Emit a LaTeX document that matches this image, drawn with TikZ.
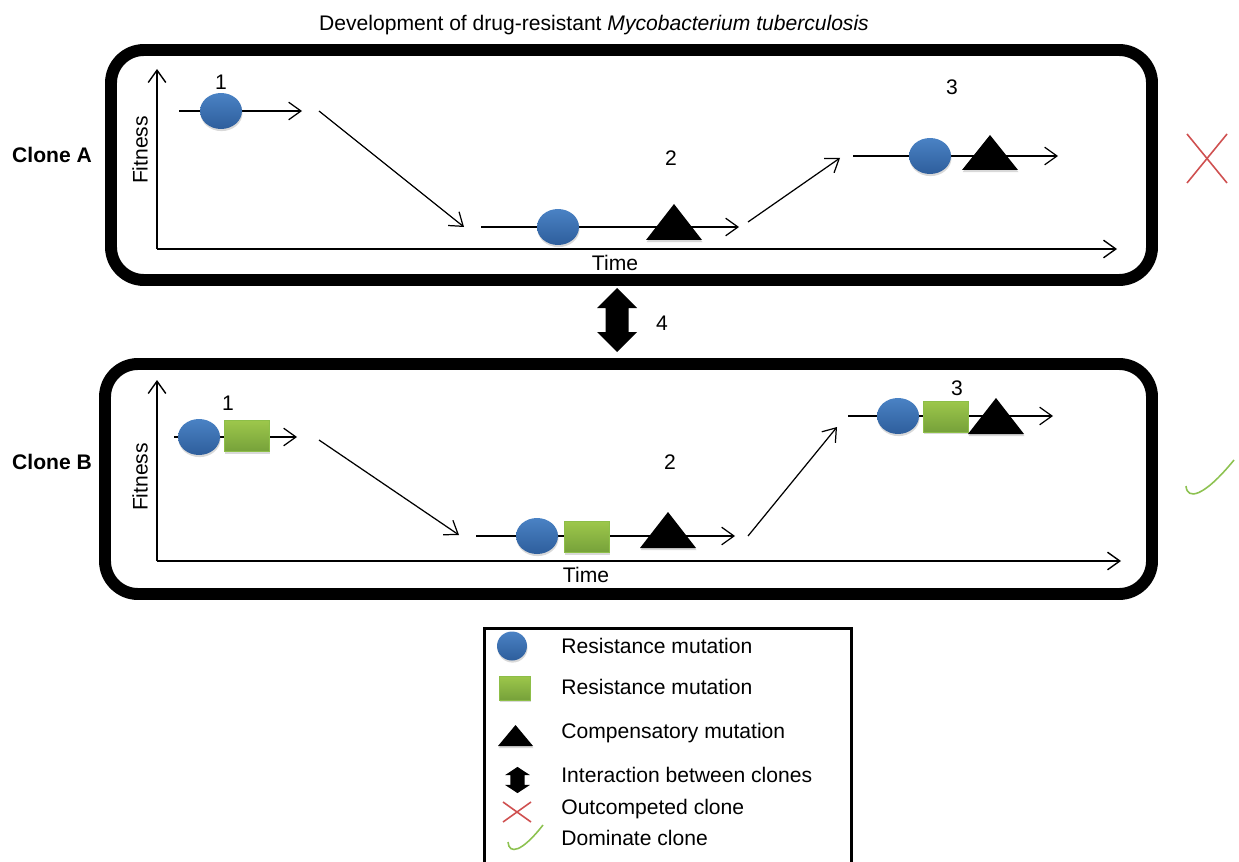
\documentclass[tikz,border=0pt]{standalone}
\usepackage{fontspec}
\setmainfont{Liberation Sans}
\usepackage{tikz}
\usetikzlibrary{arrows.meta}
\usetikzlibrary{shapes.geometric,shadows}
\definecolor{mutblueT}{HTML}{4A82C4}
\definecolor{mutblueB}{HTML}{2E5E9C}
\definecolor{mutgreenT}{HTML}{9DC74B}
\definecolor{mutgreenB}{HTML}{76A13A}
\definecolor{mutgreenD}{HTML}{8DBE48}
\definecolor{outred}{HTML}{CF5050}
\definecolor{domgreen}{HTML}{8DC251}
\tikzset{
 txt/.style={font=\fontsize{12}{14}\selectfont, inner sep=0pt},
 cname/.style={font=\fontsize{12}{14}\selectfont\bfseries, inner sep=0pt},
 soft/.style={drop shadow={opacity=0.3, shadow xshift=0.3pt, shadow yshift=-1.2pt}},
 resA/.style={ellipse, minimum width=0.84cm, minimum height=0.72cm, inner sep=0pt, top color=mutblueT, bottom color=mutblueB, soft},
 resB/.style={rectangle, minimum width=0.9cm, minimum height=0.62cm, inner sep=0pt, draw=mutgreenD, line width=0.5pt, top color=mutgreenT, bottom color=mutgreenB, soft},
 cbox/.style={line width=6.8pt, rounded corners=0.66cm},
 axis/.style={black, line width=0.8pt, ->},
 path/.style={black, line width=0.7pt, ->}
}
\newcommand{\comptri}[3]{\fill[black, soft] (#1) ++(-#2,#3) -- ++(2*#2,0) -- ++(-#2,-2*#3) -- cycle;}
\newcommand{\dblarr}[3]{\fill[black, shift={(#1)}, xscale=#2, yscale=#3] (0,-32) -- (20,-12) -- (11.5,-12) -- (11.5,12) -- (20,12) -- (0,32) -- (-20,12) -- (-11.5,12) -- (-11.5,-12) -- (-20,-12) -- cycle;}
\newcommand{\outx}[3]{\draw[outred, line width=0.9pt] (#1) ++(-#2,-#3) -- ++(2*#2,2*#3) (#1) ++(#2,-#3) -- ++(-2*#2,2*#3);}

\begin{document}
\begin{tikzpicture}[x=0.02cm, y=-0.02cm, >={Straight Barb[length=7pt,width=10pt]}]
\useasboundingbox (0,0) rectangle (1239,861);
\node[txt, anchor=base] (title) at (594,31) {Development of drug-resistant \textit{Mycobacterium tuberculosis}};

\draw[cbox] (111,50) rectangle (1152,280);
\draw[cbox] (105,364) rectangle (1152,594);

\node[cname] (cloneA) at (52,155) {Clone A};
\node[cname] (cloneB) at (52,462) {Clone B};

\coordinate (oA) at (157,249);
\coordinate (yA) at (157,69);
\coordinate (xA) at (1117,249);
\draw[axis] (oA) -- (yA);
\draw[axis] (oA) -- (xA);
\node[txt, rotate=90] (fitA) at (140,150) {Fitness};
\node[txt] (timeA) at (615,263) {Time};

\coordinate (sA1) at (179,111);
\coordinate (eA1) at (302,111);
\coordinate (dA1) at (319,111);
\coordinate (dA2) at (464,227);
\coordinate (sA2) at (481,227);
\coordinate (eA2) at (739,227);
\coordinate (uA1) at (748,222);
\coordinate (uA2) at (840,158);
\coordinate (sA3) at (853,156);
\coordinate (eA3) at (1058,156);
\draw[path] (sA1) -- (eA1);
\draw[path] (dA1) -- (dA2);
\draw[path] (sA2) -- (eA2);
\draw[path] (uA1) -- (uA2);
\draw[path] (sA3) -- (eA3);
\node[resA] (cA1) at (221,111) {};
\node[resA] (cA2) at (558,227) {};
\node[resA] (cA3) at (930,156) {};
\coordinate (tA2) at (674,222);
\coordinate (tA3) at (990,152.5);
\comptri{tA2}{28}{18}
\comptri{tA3}{28}{17.5}
\node[txt] (nA1) at (221,82) {1};
\node[txt] (nA2) at (671,158) {2};
\node[txt] (nA3) at (952,87) {3};
\coordinate (xmA) at (1207,158.5);
\outx{xmA}{20}{24.5}

\coordinate (dbl) at (617,320);
\dblarr{dbl}{1}{1}
\node[txt] (n4) at (662,323) {4};

\coordinate (oB) at (157,561);
\coordinate (yB) at (157,380);
\coordinate (xB) at (1121,561);
\draw[axis] (oB) -- (yB);
\draw[axis] (oB) -- (xB);
\node[txt, rotate=90] (fitB) at (140,477) {Fitness};
\node[txt] (timeB) at (586,575) {Time};

\coordinate (sB1) at (174,437);
\coordinate (eB1) at (297,437);
\coordinate (dB1) at (319,440);
\coordinate (dB2) at (459,535);
\coordinate (sB2) at (476,536);
\coordinate (eB2) at (735,536);
\coordinate (uB1) at (748,536);
\coordinate (uB2) at (837,427);
\coordinate (sB3) at (848,416);
\coordinate (eB3) at (1053,416);
\draw[path] (sB1) -- (eB1);
\draw[path] (dB1) -- (dB2);
\draw[path] (sB2) -- (eB2);
\draw[path] (uB1) -- (uB2);
\draw[path] (sB3) -- (eB3);
\node[resA] (cB1) at (199,437) {};
\node[resB] (qB1) at (247,436) {};
\node[resA] (cB2) at (537,536) {};
\node[resB] (qB2) at (587,537) {};
\node[resA] (cB3) at (898,416) {};
\node[resB] (qB3) at (946,416.5) {};
\coordinate (tB2) at (668,530);
\coordinate (tB3) at (996,416);
\comptri{tB2}{28}{18}
\comptri{tB3}{28}{18}
\node[txt] (nB1) at (228,403) {1};
\node[txt] (nB2) at (670,462) {2};
\node[txt] (nB3) at (957,388) {3};
\draw[domgreen, line width=0.9pt] (1186,486) .. controls (1187,500) and (1203,498) .. (1234,460);

\draw[black, line width=1.7pt] (484,628) rectangle (851,875);
\node[resA, minimum width=0.6cm, minimum height=0.58cm] (legc) at (512,646) {};
\node[resB, minimum width=0.62cm, minimum height=0.48cm] (legq) at (515,688) {};
\coordinate (legt) at (515.5,735.5);
\comptri{legt}{17.5}{10.5}
\coordinate (legd) at (517.5,780);
\dblarr{legd}{0.62}{0.41}
\coordinate (legx) at (517,812);
\outx{legx}{14}{10}
\draw[domgreen, line width=0.9pt] (508,842) .. controls (509,855) and (522,852) .. (543,825);
\foreach \yy/\lbl [count=\i] in {653.5/Resistance mutation, 694.5/Resistance mutation, 738.5/Compensatory mutation, 782.5/Interaction between clones, 814.5/Outcompeted clone, 845.5/Dominate clone}
  \node[txt, anchor=base west] (leg\i) at (561,\yy) {\lbl};
\end{tikzpicture}
\end{document}
